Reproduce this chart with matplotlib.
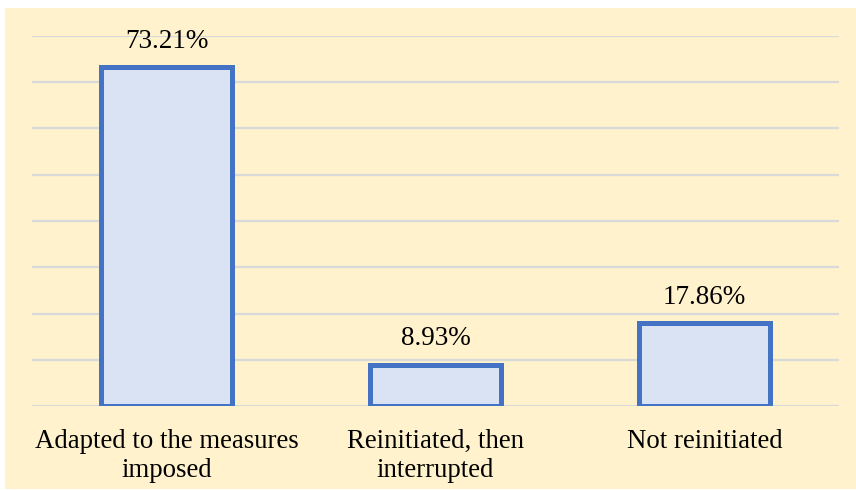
import matplotlib
matplotlib.use("Agg")
import matplotlib.pyplot as plt
from matplotlib.patches import Rectangle

categories = ["Adapted to the measures\nimposed", "Reinitiated, then\ninterrupted", "Not reinitiated"]
values = [73.21, 8.93, 17.86]
value_labels = ["73.21%", "8.93%", "17.86%"]
y_ticks = [0, 10, 20, 30, 40, 50, 60, 70, 80]

W, H = 856, 490
fig = plt.figure(figsize=(W / 100, H / 100), dpi=100)
fig.patch.set_facecolor("white")

# yellow chart area, behind the axes
fig.patches.append(Rectangle((5 / W, 1 / H), 1 - 5 / W, 1 - 9 / H,
                             transform=fig.transFigure, facecolor="#FFF2CC",
                             edgecolor="none", zorder=-10))

ax = fig.add_axes([32 / W, (H - 406) / H, (839 - 32) / W, (406 - 36) / H])
ax.set_zorder(1)
ax.set_facecolor("none")

x = range(len(categories))
ax.bar(x, values, width=0.49, color="#DAE3F3", edgecolor="#4472C4",
       linewidth=3.6, zorder=3)

for i, (v, lab) in enumerate(zip(values, value_labels)):
    ax.annotate(lab, (i, v), xytext=(0, 10), textcoords="offset points",
                ha="center", va="bottom", fontsize=19.5,
                family="Liberation Serif", color="black")

ax.set_xlim(-0.5, 2.5)
ax.set_ylim(0, 80)
ax.set_yticks(y_ticks)
ax.grid(axis="y", color="#D9D9D9", linewidth=1.6, zorder=0)
ax.tick_params(axis="y", left=False, labelleft=False)
ax.set_xticks(list(x))
ax.set_xticklabels(categories, fontsize=19.3, family="Liberation Serif",
                   linespacing=1.2)
ax.tick_params(axis="x", bottom=False, pad=13)
for s in ax.spines.values():
    s.set_visible(False)

fig.savefig("out.png", dpi=100)
